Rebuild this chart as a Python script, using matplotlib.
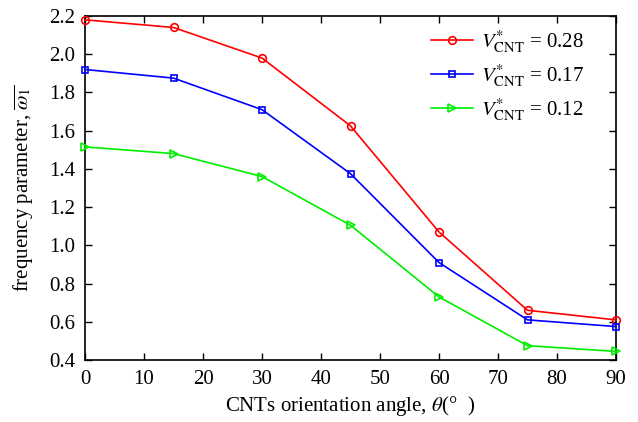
import numpy as np
import matplotlib
matplotlib.use('Agg')
from matplotlib import pyplot as plt

plt.rcParams['font.family'] = ['Liberation Serif', 'DejaVu Serif']
plt.rcParams['mathtext.fontset'] = 'stix'

angle = [0, 15, 30, 45, 60, 75, 90]
v028 = [2.18, 2.14, 1.98, 1.625, 1.07, 0.66, 0.61]
v017 = [1.92, 1.875, 1.71, 1.375, 0.91, 0.61, 0.575]
v012 = [1.515, 1.48, 1.36, 1.105, 0.73, 0.475, 0.445]

fig = plt.figure(figsize=(6.38, 4.22), dpi=100)
ax = fig.add_axes([85 / 638, 62 / 422, 531 / 638, 344 / 422])

kw = dict(lw=1.2, mfc='none', mew=1.2, clip_on=False, zorder=3)
ax.plot(angle, v028, color='#ff0000', marker='o', ms=5.5, label=r'$V^{*}_{\mathrm{CNT}}$ = 0.28', **kw)
ax.plot(angle, v017, color='#0000ff', marker='s', ms=4.5, label=r'$V^{*}_{\mathrm{CNT}}$ = 0.17', **kw)
ax.plot(angle, v012, color='#00ee00', marker='>', ms=5.5, label=r'$V^{*}_{\mathrm{CNT}}$ = 0.12', **kw)

ax.set_xlim(0, 90)
ax.set_ylim(0.4, 2.2)
ax.set_xticks(np.arange(0, 91, 10))
ax.set_yticks(np.arange(0.4, 2.21, 0.2))
ax.yaxis.set_major_formatter(matplotlib.ticker.FormatStrFormatter('%.1f'))
ax.tick_params(direction='in', top=True, right=True, labelsize=15, length=5, width=1, pad=7)
for s in ax.spines.values():
    s.set_linewidth(1.2)

ax.set_xlabel(r'CNTs orientation angle, $\theta$(°  )', fontsize=15, labelpad=4)
ax.set_ylabel(r'frequency parameter, $\overline{\omega_1}$', fontsize=15, labelpad=10)

ax.legend(loc='upper right', bbox_to_anchor=(0.975, 1.02), frameon=False, fontsize=15,
          handlelength=2.0, labelspacing=0.35, handletextpad=0.4)

fig.savefig('out.png', dpi=100)
